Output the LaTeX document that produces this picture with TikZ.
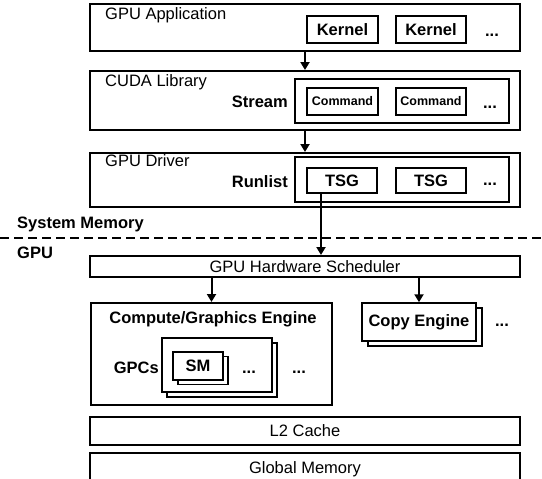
\documentclass[tikz,border=0pt]{standalone}
\usepackage{fontspec}
\setmainfont{Liberation Sans}
\usetikzlibrary{arrows.meta}

\begin{document}
\begin{tikzpicture}[x=1pt, y=-1pt,
  layer/.style={draw, line width=2pt, inner sep=0pt, font=\fontsize{16.5}{19}\selectfont},
  item/.style={draw, line width=2pt, fill=white, inner sep=0pt, font=\fontsize{16.5}{19}\selectfont\bfseries},
  stack/.style={draw, line width=1.5pt, fill=white, inner sep=0pt, font=\fontsize{16.5}{19}\selectfont\bfseries},
  txt/.style={inner sep=0pt, font=\fontsize{16.5}{19}\selectfont},
  btxt/.style={inner sep=0pt, font=\fontsize{16.5}{19}\selectfont\bfseries},
  arr/.style={line width=2pt, -{Triangle[length=8pt, width=9pt]}}]
\clip (0,0) rectangle (542,479);

% software side
\node[layer, minimum width=430, minimum height=47] (app) at (305,27.5) {};
\node[txt, anchor=base west] (applabel) at (105,19.5) {GPU Application};
\node[item, minimum width=71, minimum height=27] (kernelA) at (342.5,29.5) {Kernel};
\node[item, minimum width=70, minimum height=27] (kernelB) at (431,29.5) {Kernel};
\node[btxt] (appdots) at (492,35) {...};

\node[layer, minimum width=430, minimum height=59] (cuda) at (305,100.5) {};
\node[txt, anchor=base west] (cudalabel) at (105,86) {CUDA Library};
\node[layer, minimum width=214, minimum height=44] (stream) at (402,101) {};
\node[btxt, anchor=east] (streamlabel) at (288,102) {Stream};
\node[item, minimum width=71, minimum height=27, font=\fontsize{12.5}{15}\selectfont\bfseries] (cmdA) at (342.5,101.5) {Command};
\node[item, minimum width=70, minimum height=27, font=\fontsize{12.5}{15}\selectfont\bfseries] (cmdB) at (431,101.5) {Command};
\node[btxt] (streamdots) at (490,107.5) {...};

\node[layer, minimum width=430, minimum height=54] (driver) at (305,180) {};
\node[txt, anchor=base west] (driverlabel) at (105,166.5) {GPU Driver};
\node[layer, minimum width=214, minimum height=45] (runlist) at (402,179.5) {};
\node[btxt, anchor=east] (runlistlabel) at (288,182) {Runlist};
\node[item, minimum width=70, minimum height=25] (tsgA) at (342,180.5) {TSG};
\node[item, minimum width=70, minimum height=25] (tsgB) at (431,180.5) {TSG};
\node[btxt] (runlistdots) at (490,184) {...};

\draw[arr] (app.south) -- (cuda.north);
\draw[arr] (cuda.south) -- (driver.north);

% boundary
\node[btxt, anchor=west] (sysmem) at (17,224) {System Memory};
\node[btxt, anchor=west] (gpulabel) at (17,253) {GPU};
\draw[line width=2pt, dash pattern=on 9pt off 5pt] (0,238) -- (542,238);

% hardware side
\node[layer, minimum width=430, minimum height=21] (sched) at (305,266.5) {GPU Hardware Scheduler};
\draw[arr] ([xshift=-21pt]tsgA.south) -- ([xshift=-21pt]tsgA.south |- sched.north);

\node[layer, minimum width=241, minimum height=102] (cge) at (211.5,354) {};
\node[btxt, anchor=base] (cgelabel) at (213,323) {Compute/Graphics Engine};
\node[stack, minimum width=110, minimum height=54] (gpcback) at (222,370) {};
\node[stack, minimum width=110, minimum height=54] (gpc) at (217,365) {};
\node[btxt, anchor=east] (gpclabel) at (159,367.5) {GPCs};
\node[stack, minimum width=50, minimum height=28] (smback) at (203,370.5) {};
\node[stack, minimum width=50, minimum height=28] (sm) at (198,366) {SM};
\node[btxt] (smdots) at (249,372.5) {...};
\node[btxt] (gpcdots) at (299,372.5) {...};

\node[stack, minimum width=114, minimum height=38] (copyback) at (425,327) {};
\node[stack, minimum width=114, minimum height=38] (copy) at (419,322) {Copy Engine};
\node[btxt] (copydots) at (502,325.5) {...};

\draw[arr] (sched.south -| cge.north) -- (cge.north);
\draw[arr] (sched.south -| copy.north) -- (copy.north);

\node[layer, minimum width=430, minimum height=28] (l2) at (305,431) {L2 Cache};
\node[layer, minimum width=430, minimum height=33] (glob) at (305,469.5) {Global Memory};

\end{tikzpicture}
\end{document}
